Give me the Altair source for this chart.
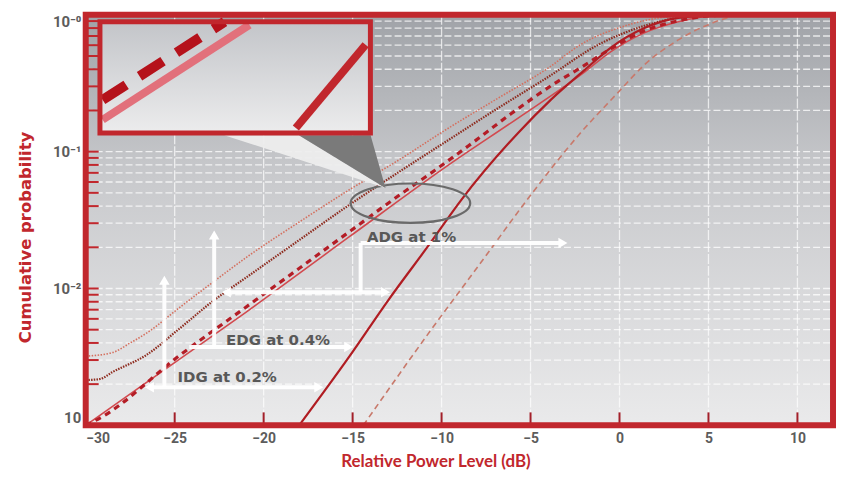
import altair as alt
import pandas as pd

# ---------------- axis ticks ----------------
x_ticks = [-30, -25, -20, -15, -10, -5, 0, 5, 10]
y_decades = [0.001, 0.01, 0.1, 1.0]
y_labels = ["10", "10⁻²", "10⁻¹", "10⁻⁰"]
y_minor = [m * d for d in [0.001, 0.01, 0.1] for m in range(1, 10)] + [1.0]

# ---------------- curves (dB, cumulative probability) ----------------
# light dotted
c1_x = [-30.0, -28.5, -27.5, -26.6, -24.7, -22.9, -20.8, -18.0, -15.2, -12.4, -9.6, -6.8, -4.0, -2.2, 0.5, 3.3, 5.5]
c1_p = [0.0032, 0.0034, 0.0040, 0.0047, 0.0073, 0.0110, 0.0175, 0.0306, 0.0525, 0.087, 0.149, 0.247, 0.409, 0.604, 0.845, 0.983, 1.0]
# dark dotted
c2_x = [-30.0, -29.2, -28.5, -26.6, -24.7, -22.9, -20.8, -18.0, -15.2, -12.4, -9.6, -6.8, -4.0, -1.2, 1.4, 4.2, 6.1]
c2_p = [0.00214, 0.00218, 0.00245, 0.00326, 0.00513, 0.0080, 0.0125, 0.0226, 0.0407, 0.071, 0.122, 0.209, 0.352, 0.604, 0.831, 0.983, 1.0]
# heavy dashed
c3_x = [-30.0, -29.2, -24.7, -21.0, -15.2, -12.6, -10.35, -8.5, -6.1, -3.5, -2.2, -0.5, 1.4, 3.3, 5.1, 6.6]
c3_p = [0.001, 0.00113, 0.00326, 0.0073, 0.0259, 0.0458, 0.0735, 0.110, 0.189, 0.324, 0.409, 0.564, 0.764, 0.904, 0.983, 1.0]
# solid (straight)
c4_x = [-30.0, -26.4, -21.0, -15.2, -9.6, -5.7, -1.95, -0.5, 1.4, 3.3, 5.1, 6.9]
c4_p = [0.001, 0.00214, 0.0067, 0.0238, 0.080, 0.176, 0.383, 0.536, 0.738, 0.889, 0.983, 1.0]
# steep solid
c5_x = [-18.0, -15.2, -13.0, -10.7, -8.9, -5.7, -3.85, -1.95, -0.5, 1.4, 3.3, 5.1, 6.6]
c5_p = [0.001, 0.00316, 0.0082, 0.0209, 0.0443, 0.137, 0.24, 0.396, 0.574, 0.80, 0.95, 0.99, 1.0]
# thin dashed (right)
c6_x = [-14.4, -10.6, -7.9, -5.0, -2.3, -0.1, 1.4, 3.3, 5.1, 6.6]
c6_p = [0.001, 0.00497, 0.0148, 0.048, 0.132, 0.269, 0.431, 0.656, 0.86, 1.0]

# ---------------- annotations ----------------
seg_x = [-22.1, -14.55, -14.55, -22.78, -24.18, -25.58, -26.42]
seg_x2 = [-13.15, -14.55, -3.18, -22.78, -15.22, -25.58, -16.9]
seg_p = [0.0094, 0.0094, 0.0215, 0.00373, 0.00373, 0.0019, 0.0019]
seg_p2 = [0.0094, 0.0215, 0.0215, 0.0246, 0.00373, 0.0115, 0.0019]

head_x = [-22.1, -13.15, -3.18, -22.78, -15.22, -25.58, -26.42, -16.9]
head_p = [0.0094, 0.0094, 0.0215, 0.0246, 0.00373, 0.0115, 0.0019, 0.0019]
head_shape = ["triangle-left", "triangle-right", "triangle-right", "triangle-up",
              "triangle-right", "triangle-up", "triangle-left", "triangle-right"]

label_text = ["ADG at 1%", "EDG at 0.4%", "IDG at 0.2%"]
label_x = [-11.69, -19.19, -22.05]
label_p = [0.0238, 0.0042, 0.00225]

ellipse_x = [-11.75]
ellipse_p = [0.042]

# inset (magnified view)
inset_x, inset_x2 = [-29.2], [-14.0]
inset_p, inset_p2 = [0.137], [0.889]
inset_dash_x, inset_dash_p = [-29.05, -22.2], [0.239, 0.889]
inset_band_x, inset_band_p = [-29.05, -20.8], [0.171, 0.845]
inset_solid_x, inset_solid_p = [-18.19, -14.27], [0.149, 0.604]
wedge_light_x, wedge_light_p, wedge_light_p2 = [-22.22, -18.02, -13.15], [0.132, 0.132, 0.0543], [0.132, 0.0877, 0.0543]
wedge_dark_x, wedge_dark_p, wedge_dark_p2 = [-18.02, -13.99, -13.15], [0.132, 0.132, 0.0543], [0.132, 0.0632, 0.0543]

# ---------------- chart ----------------
W, H = 750, 412
RED = "#c1272d"
FONT = "Lato"
WIDE = "DejaVu Sans"

xs = alt.Scale(domain=[-30, 12], nice=False, zero=False)
ys = alt.Scale(type="log", domain=[0.001, 1], nice=False)
xaxis = alt.Axis(values=x_ticks, grid=False, ticks=False, domain=False,
                 title="Relative Power Level (dB)", labelFont="Roboto", labelFontSize=14,
                 labelFontWeight="bold", labelColor="#5c5c5c", labelPadding=6,
                 titleColor=RED, titleFont=FONT, titleFontSize=17, titleFontWeight="bold",
                 titlePadding=8, titleX=351)
label_expr = (f"datum.value < 0.005 ? '{y_labels[0]}' : datum.value < 0.05 ? '{y_labels[1]}' : "
              f"datum.value < 0.5 ? '{y_labels[2]}' : '{y_labels[3]}'")
yaxis = alt.Axis(values=y_decades, grid=False, ticks=False, domain=False, labelExpr=label_expr,
                 title="Cumulative probability", labelFont="Roboto", labelFontSize=15,
                 labelFontWeight="bold", labelColor="#5c5c5c", labelPadding=5, labelFlush=True,
                 titleColor=RED, titleFont=WIDE, titleFontSize=16.5, titleFontWeight="bold",
                 titlePadding=19, titleY=223)


def X(f="x"):
    return alt.X(f, type="quantitative", scale=xs, axis=xaxis)


def Y(f="p"):
    return alt.Y(f, type="quantitative", scale=ys, axis=yaxis)


one = pd.DataFrame({"a": [0]})

bg = alt.Chart(one).mark_rect(
    color=alt.Gradient(gradient="linear", x1=0, x2=0, y1=0, y2=1,
                       stops=[alt.GradientStop(color="#a0a3a8", offset=0),
                              alt.GradientStop(color="#c9cacd", offset=0.4),
                              alt.GradientStop(color="#eaeaeb", offset=1)])
).encode(x=alt.value(0), x2=alt.value(W), y=alt.value(0), y2=alt.value(H))

hgrid = alt.Chart(pd.DataFrame({"p": y_minor[1:-1]})).mark_rule(
    color="white", strokeWidth=1.3, strokeDash=[7, 3], opacity=0.75
).encode(y=Y(), x=alt.value(0), x2=alt.value(W))

vgrid = alt.Chart(pd.DataFrame({"x": x_ticks[1:]})).mark_rule(
    color="white", strokeWidth=1.3, strokeDash=[10, 2], opacity=0.7
).encode(x=X(), y=alt.value(0), y2=alt.value(H))

lticks = alt.Chart(pd.DataFrame({"p": y_minor[1:-1]})).mark_rule(
    color=RED, strokeWidth=2
).encode(y=Y(), x=alt.value(0), x2=alt.value(13))

bticks = alt.Chart(pd.DataFrame({"x": x_ticks[1:]})).mark_rule(
    color="#a3202a", strokeWidth=2
).encode(x=X(), y=alt.value(H), y2=alt.value(H - 13))


def curve(xv, pv, **style):
    return alt.Chart(pd.DataFrame({"x": xv, "p": pv})).mark_line(
        interpolate="monotone", **style).encode(x=X(), y=Y())


l1 = curve(c1_x, c1_p, color="#d4705f", strokeWidth=1.6, strokeDash=[1.5, 1.5])
l2 = curve(c2_x, c2_p, color="#8e2c1f", strokeWidth=2.2, strokeDash=[1.5, 1.2])
l4 = curve(c4_x, c4_p, color="#d24a4f", strokeWidth=1.6)
l3 = curve(c3_x, c3_p, color="#b41d26", strokeWidth=3.2, strokeDash=[6, 5])
l5 = curve(c5_x, c5_p, color="#b01c22", strokeWidth=2.2)
l6 = curve(c6_x, c6_p, color="#c8796b", strokeWidth=1.6, strokeDash=[6, 4])

ell = alt.Chart(pd.DataFrame({"x": ellipse_x, "p": ellipse_p})).mark_point(
    shape="M-1,0A1,0.33,0,1,1,1,0A1,0.33,0,1,1,-1,0Z", size=14400, filled=False,
    color="#6a6a6a", strokeWidth=2.2, opacity=1
).encode(x=X(), y=Y())

segs = alt.Chart(pd.DataFrame({"x": seg_x, "x2": seg_x2, "p": seg_p, "p2": seg_p2})).mark_rule(
    color="white", strokeWidth=4, opacity=0.95
).encode(x=X(), x2="x2:Q", y=Y(), y2="p2:Q")

heads = alt.Chart(pd.DataFrame({"x": head_x, "p": head_p, "shape": head_shape})).mark_point(
    filled=True, color="white", size=110, opacity=1
).encode(x=X(), y=Y(), shape=alt.Shape("shape:N", scale=None))

texts = alt.Chart(pd.DataFrame({"x": label_x, "p": label_p, "t": label_text})).mark_text(
    font=WIDE, fontSize=15, fontWeight="bold", color="#585858"
).encode(x=X(), y=Y(), text="t:N")

wedge_l = alt.Chart(pd.DataFrame({"x": wedge_light_x, "p": wedge_light_p, "p2": wedge_light_p2})).mark_area(
    orient="vertical", color="#ededed", opacity=0.95
).encode(x=X(), y=Y(), y2="p2:Q")
wedge_d = alt.Chart(pd.DataFrame({"x": wedge_dark_x, "p": wedge_dark_p, "p2": wedge_dark_p2})).mark_area(
    orient="vertical", color="#7a7a7a"
).encode(x=X(), y=Y(), y2="p2:Q")

inset_bg = alt.Chart(pd.DataFrame({"x": inset_x, "x2": inset_x2, "p": inset_p, "p2": inset_p2})).mark_rect(
    color=alt.Gradient(gradient="linear", x1=0, x2=0, y1=0, y2=1,
                       stops=[alt.GradientStop(color="#c3c5c9", offset=0),
                              alt.GradientStop(color="#ececed", offset=1)])
).encode(x=X(), x2="x2:Q", y=Y(), y2="p2:Q")

in_band = alt.Chart(pd.DataFrame({"x": inset_band_x, "p": inset_band_p})).mark_line(
    color="#e2707b", strokeWidth=8).encode(x=X(), y=Y())
in_dash = alt.Chart(pd.DataFrame({"x": inset_dash_x, "p": inset_dash_p})).mark_line(
    color="#b5121b", strokeWidth=10, strokeDash=[28, 16], strokeCap="butt").encode(x=X(), y=Y())
in_solid = alt.Chart(pd.DataFrame({"x": inset_solid_x, "p": inset_solid_p})).mark_line(
    color=RED, strokeWidth=8).encode(x=X(), y=Y())

inset_frame = alt.Chart(pd.DataFrame({"x": inset_x, "x2": inset_x2, "p": inset_p, "p2": inset_p2})).mark_rect(
    color=RED, fillOpacity=0, stroke=RED, strokeWidth=5
).encode(x=X(), x2="x2:Q", y=Y(), y2="p2:Q")

frame = alt.Chart(one).mark_rect(
    color=RED, fillOpacity=0, stroke=RED, strokeWidth=6
).encode(x=alt.value(0), x2=alt.value(W), y=alt.value(0), y2=alt.value(H))

chart = alt.layer(
    bg, hgrid, vgrid, lticks, bticks,
    l1, l2, l4, l3, l5, l6,
    ell, segs, heads, texts,
    wedge_l, wedge_d, inset_bg, in_band, in_dash, in_solid, inset_frame,
    frame
).properties(
    width=W, height=H,
    padding={"left": 78, "top": 6, "right": 4, "bottom": 46},
    autosize=alt.AutoSizeParams(type="none"),
    background="white",
).configure_view(strokeWidth=0)

chart.save("out.html", embed_options={"renderer": "svg", "actions": False})
